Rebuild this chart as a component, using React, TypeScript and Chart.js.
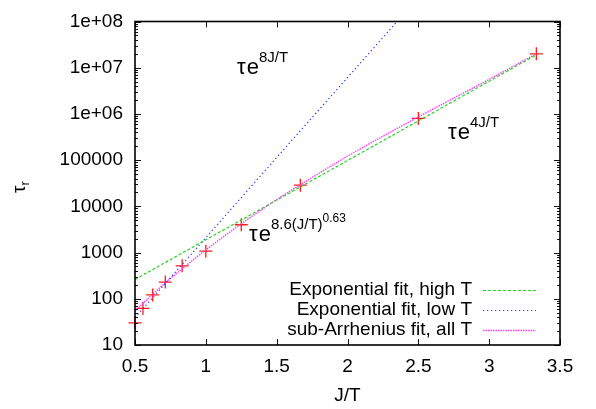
import React, { useEffect, useRef } from 'react';
import { Chart, registerables } from 'chart.js';

Chart.register(...registerables);

// ---- data ----
const invT = [0.5, 0.556, 0.625, 0.714, 0.833, 1, 1.25, 1.667, 2.5, 3.333];
const tauR = [30, 62, 121, 230, 516, 1070, 4000, 28800, 800000, 2.0e7];

const highTX = [0.5, 3.333];
const highTY = [262, 1.9e7];
const lowTX = [0.5, 2.35];
const lowTY = [39, 1e8];
const subArrX = [0.5, 0.6, 0.75, 1, 1.25, 1.5, 1.75, 2, 2.5, 3, 3.333];
const subArrY = [54, 107, 275, 1140, 4200, 14000, 42000, 122000, 860000, 5.6e6, 2.0e7];

const xTicks = [0.5, 1, 1.5, 2, 2.5, 3, 3.5];
const xTickLabels = ['0.5', '1', '1.5', '2', '2.5', '3', '3.5'];
const yTicks = [10, 100, 1000, 1e4, 1e5, 1e6, 1e7, 1e8];
const yTickLabels = ['10', '100', '1000', '10000', '100000', '1e+06', '1e+07', '1e+08'];
const minorMultipliers = [2, 3, 4, 5, 6, 7, 8, 9];

const legendLabels = ['Exponential fit, high T', 'Exponential fit, low T', 'sub-Arrhenius fit, all T'];
const xTitle = 'J/T';

const FONT = "'Liberation Sans', Arial, Helvetica, sans-serif";

const GREEN = '#22d622';
const BLUE = '#3b3bf5';
const PINK = '#ff3cff';
const RED = '#ff1a1a';

function toXY(xs: number[], ys: number[]) {
  return xs.map((x, i) => ({ x, y: ys[i] }));
}

const decorPlugin = {
  id: 'decor',
  afterDraw(chart: any) {
    const { ctx, chartArea } = chart;
    const xs = chart.scales.x;
    const ys = chart.scales.y;
    const { left, right, top, bottom } = chartArea;
    ctx.save();

    // ticks (inward, mirrored)
    ctx.strokeStyle = '#111';
    ctx.lineWidth = 1;
    ctx.beginPath();
    xTicks.forEach((v) => {
      const px = Math.round(xs.getPixelForValue(v)) + 0.5;
      ctx.moveTo(px, bottom);
      ctx.lineTo(px, bottom - 6);
      ctx.moveTo(px, top);
      ctx.lineTo(px, top + 6);
    });
    yTicks.forEach((v, i) => {
      const py = Math.round(ys.getPixelForValue(v)) + 0.5;
      ctx.moveTo(left, py);
      ctx.lineTo(left + 6, py);
      ctx.moveTo(right, py);
      ctx.lineTo(right - 6, py);
      if (i < yTicks.length - 1) {
        minorMultipliers.forEach((m) => {
          const pm = Math.round(ys.getPixelForValue(v * m)) + 0.5;
          ctx.moveTo(left, pm);
          ctx.lineTo(left + 3, pm);
          ctx.moveTo(right, pm);
          ctx.lineTo(right - 3, pm);
        });
      }
    });
    ctx.stroke();

    // frame
    ctx.lineWidth = 1.6;
    ctx.strokeStyle = '#000';
    ctx.strokeRect(left, top, right - left, bottom - top);

    // legend
    ctx.font = `19px ${FONT}`;
    ctx.fillStyle = '#000';
    ctx.textAlign = 'right';
    ctx.textBaseline = 'middle';
    const lineDs = [1, 2, 3];
    legendLabels.forEach((lab, i) => {
      const yy = bottom - 55 + i * 20;
      ctx.fillText(lab, right - 88, yy);
      const ds = chart.data.datasets[lineDs[i]];
      ctx.save();
      ctx.strokeStyle = ds.borderColor;
      ctx.lineWidth = ds.borderWidth;
      ctx.setLineDash(ds.borderDash || []);
      ctx.beginPath();
      ctx.moveTo(right - 77, yy + 0.5);
      ctx.lineTo(right - 24, yy + 0.5);
      ctx.stroke();
      ctx.restore();
    });

    // annotations
    ctx.textAlign = 'left';
    ctx.textBaseline = 'alphabetic';
    const annot = (x: number, y: number, sup: string, sup2?: string) => {
      ctx.font = `22px ${FONT}`;
      ctx.fillText('\u03c4', x, y);
      const wt = ctx.measureText('\u03c4').width;
      ctx.fillText('e', x + wt + 1, y);
      const we = ctx.measureText('e').width;
      ctx.font = `15px ${FONT}`;
      const sx = x + wt + 1 + we;
      ctx.fillText(sup, sx, y - 12);
      if (sup2) {
        const ws = ctx.measureText(sup).width;
        ctx.font = `12px ${FONT}`;
        ctx.fillText(sup2, sx + ws, y - 19);
      }
    };
    annot(237, 73.5, '8J/T');
    annot(448, 138.5, '4J/T');
    annot(249, 241, '8.6(J/T)', '0.63');

    // y title tau_r
    ctx.save();
    ctx.translate(25, 193);
    ctx.rotate(-Math.PI / 2);
    ctx.font = `19px ${FONT}`;
    ctx.fillText('\u03c4', 0, 0);
    const wtau = ctx.measureText('\u03c4').width;
    ctx.font = `13px ${FONT}`;
    ctx.fillText('r', wtau, 4);
    ctx.restore();

    ctx.restore();
  },
};

export default function App() {
  const ref = useRef<HTMLCanvasElement | null>(null);

  useEffect(() => {
    if (!ref.current) return;
    const chart = new Chart(ref.current, {
      type: 'scatter',
      data: {
        datasets: [
          {
            label: 'data',
            data: toXY(invT, tauR),
            showLine: false,
            pointStyle: 'cross',
            pointRadius: 6.5,
            pointBorderWidth: 1.3,
            borderColor: RED,
            backgroundColor: RED,
            clip: false,
            order: 4,
          } as any,
          {
            label: legendLabels[0],
            data: toXY(highTX, highTY),
            showLine: true,
            pointRadius: 0,
            borderColor: GREEN,
            borderWidth: 1.2,
            borderDash: [3, 2],
            order: 1,
          },
          {
            label: legendLabels[1],
            data: toXY(lowTX, lowTY),
            showLine: true,
            pointRadius: 0,
            borderColor: BLUE,
            borderWidth: 1.2,
            borderDash: [1.3, 2.7],
            order: 2,
          },
          {
            label: legendLabels[2],
            data: toXY(subArrX, subArrY),
            showLine: true,
            pointRadius: 0,
            borderColor: PINK,
            borderWidth: 1.4,
            borderDash: [1.5, 1],
            cubicInterpolationMode: 'monotone',
            order: 3,
          },
        ],
      },
      options: {
        animation: false,
        responsive: false,
        maintainAspectRatio: false,
        layout: { padding: { top: 11, right: 36, left: 0, bottom: 0 } },
        plugins: {
          legend: { display: false },
          tooltip: { enabled: false },
        },
        scales: {
          x: {
            type: 'linear',
            min: 0.5,
            max: 3.5,
            grid: { display: false, drawTicks: false },
            border: { display: false },
            afterBuildTicks: (s: any) => {
              s.ticks = xTicks.map((v) => ({ value: v }));
            },
            afterFit: (s: any) => {
              s.height = 64;
            },
            ticks: {
              autoSkip: false,
              maxRotation: 0,
              padding: 12,
              color: '#000',
              font: { family: FONT, size: 19, lineHeight: 1 },
              callback: (v: any) => {
                const i = xTicks.indexOf(Number(v));
                return i >= 0 ? xTickLabels[i] : '';
              },
            },
            title: {
              display: true,
              text: xTitle,
              color: '#000',
              font: { family: FONT, size: 19, lineHeight: 1.2 },
              padding: { top: 0, bottom: 2 },
            },
          },
          y: {
            type: 'logarithmic',
            min: 10,
            max: 1e8,
            grid: { display: false, drawTicks: false },
            border: { display: false },
            afterBuildTicks: (s: any) => {
              s.ticks = yTicks.map((v) => ({ value: v }));
            },
            afterFit: (s: any) => {
              s.width = 135;
            },
            ticks: {
              autoSkip: false,
              padding: 12,
              color: '#000',
              font: { family: FONT, size: 19, lineHeight: 1 },
              callback: (v: any) => {
                const i = yTicks.indexOf(Number(v));
                return i >= 0 ? yTickLabels[i] : '';
              },
            },
          },
        },
      } as any,
      plugins: [decorPlugin],
    });
    return () => chart.destroy();
  }, []);

  return (
    <div style={{ position: 'absolute', left: 0, top: 0, width: 596, height: 409, background: '#fff' }}>
      <canvas ref={ref} width={596} height={409} style={{ display: 'block', width: 596, height: 409 }} />
    </div>
  );
}
